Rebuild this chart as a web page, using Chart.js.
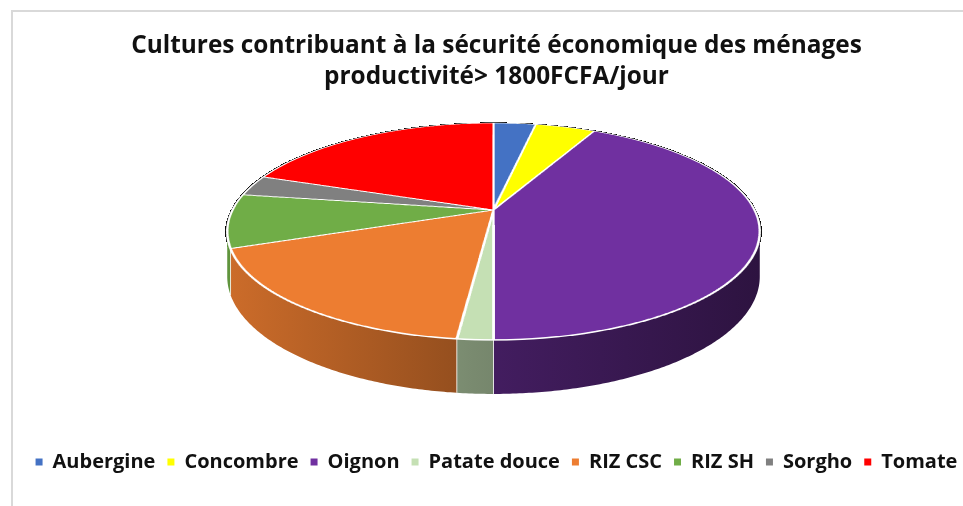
<!DOCTYPE html>
<html lang="fr">
<head>
<meta charset="utf-8">
<title>Cultures contribuant à la sécurité économique des ménages</title>
<script src="https://cdn.jsdelivr.net/npm/chart.js@4.4.1/dist/chart.umd.min.js"></script>
<style>
  html, body { margin: 0; padding: 0; background: #fff; }
  canvas { display: block; }
</style>
</head>
<body>
<canvas id="pie" width="963" height="506"></canvas>
<script>
const titleLines = ['Cultures contribuant à la sécurité économique des ménages', 'productivité> 1800FCFA/jour'];
const crops = ['Aubergine', 'Concombre', 'Oignon', 'Patate douce', 'RIZ CSC', 'RIZ SH', 'Sorgho', 'Tomate'];
const shares = [3.1, 4.4, 42.5, 1.8, 17.6, 8.0, 3.1, 19.5];
const sliceColors = ['#4472C4', '#FFFF00', '#7030A0', '#C5E0B4', '#ED7D31', '#70AD47', '#808080', '#FF0000'];

// Tilted view of the disc: screen centre, half axes, perspective strength, thickness
const view = { cx: 493.5, cy: 210, rx: 261, ry: 104.2, persp: 0.198, depth: 43.3 };

// theta is measured from the far edge, clockwise
function project(theta, lower) {
  const w = 1 + view.persp * Math.cos(theta);
  return {
    x: view.cx + view.rx * Math.sin(theta) / w,
    y: view.cy - view.ry * Math.cos(theta) / w + (lower ? view.depth / w : 0)
  };
}

function shade(hex, f) {
  const n = parseInt(hex.slice(1), 16);
  const r = Math.round(((n >> 16) & 255) * f);
  const g = Math.round(((n >> 8) & 255) * f);
  const b = Math.round((n & 255) * f);
  return `rgb(${r},${g},${b})`;
}

function drawWalls(ctx, arcs) {
  const k = view.persp;
  const lo = Math.acos(-k), hi = 2 * Math.PI - lo;
  const x0 = view.cx - view.rx * 1.02, x1 = view.cx + view.rx * 1.02;
  arcs.forEach(arc => {
    const a = Math.max(arc.startAngle + Math.PI / 2, lo);
    const b = Math.min(arc.endAngle + Math.PI / 2, hi);
    if (b <= a) return;
    const steps = Math.max(2, Math.ceil((b - a) / 0.01));
    ctx.beginPath();
    for (let i = 0; i <= steps; i++) {
      const p = project(a + (b - a) * i / steps, false);
      if (i === 0) ctx.moveTo(p.x, p.y); else ctx.lineTo(p.x, p.y);
    }
    for (let i = steps; i >= 0; i--) {
      const p = project(a + (b - a) * i / steps, true);
      ctx.lineTo(p.x, p.y);
    }
    ctx.closePath();
    const base = arc.options.backgroundColor;
    const grad = ctx.createLinearGradient(x0, 0, x1, 0);
    grad.addColorStop(0, shade(base, 0.86));
    grad.addColorStop(0.45, shade(base, 0.62));
    grad.addColorStop(1, shade(base, 0.40));
    ctx.fillStyle = grad;
    ctx.fill();
  });
  // light seams where slices meet on the wall
  ctx.strokeStyle = 'rgba(255,255,255,0.75)';
  ctx.lineWidth = 1;
  arcs.forEach(arc => {
    const t = arc.startAngle + Math.PI / 2;
    if (t > lo && t < hi) {
      const p = project(t, false), q = project(t, true);
      ctx.beginPath();
      ctx.moveTo(p.x, p.y);
      ctx.lineTo(q.x, q.y);
      ctx.stroke();
    }
  });
}

// Draws the flat pie off-screen with Chart.js arc elements, then lays it onto the tilted disc
function drawTopFace(ctx, arcs) {
  const first = arcs[0];
  const R = first.outerRadius, S = 3, pad = 4;
  const size = Math.ceil(2 * (R + pad) * S);
  const off = document.createElement('canvas');
  off.width = off.height = size;
  const octx = off.getContext('2d');
  octx.setTransform(S, 0, 0, S, size / 2 - first.x * S, size / 2 - first.y * S);
  arcs.forEach(a => a.draw(octx));
  const src = octx.getImageData(0, 0, size, size).data;

  const k = view.persp;
  const bx = Math.floor(view.cx - view.rx * 1.04), bw = Math.ceil(view.rx * 2.08) + 2;
  const by = Math.floor(view.cy - view.ry / (1 + k)) - 3;
  const bh = Math.ceil(view.ry / (1 + k) + view.ry / (1 - k)) + 6;
  const img = ctx.getImageData(bx, by, bw, bh);
  const d = img.data;
  const n = 3, half = size / 2, scale = R * S;
  for (let yy = 0; yy < bh; yy++) {
    for (let xx = 0; xx < bw; xx++) {
      let ar = 0, ag = 0, ab = 0, aa = 0;
      for (let j = 0; j < n; j++) {
        const py = by + yy + (j + 0.5) / n;
        const t = (view.cy - py) / view.ry;
        const sv = t / (1 - k * t);
        if (sv > 1.02 || sv < -1.02) continue;
        const w = 1 + k * sv;
        for (let i = 0; i < n; i++) {
          const px = bx + xx + (i + 0.5) / n;
          const su = (px - view.cx) * w / view.rx;
          if (su * su + sv * sv > 1.04) continue;
          const sx = Math.floor(half + su * scale), sy = Math.floor(half - sv * scale);
          if (sx < 0 || sy < 0 || sx >= size || sy >= size) continue;
          const idx = (sy * size + sx) * 4;
          const al = src[idx + 3] / 255;
          ar += src[idx] * al; ag += src[idx + 1] * al; ab += src[idx + 2] * al; aa += al;
        }
      }
      if (aa === 0) continue;
      const cnt = n * n;
      ar /= cnt; ag /= cnt; ab /= cnt; aa /= cnt;
      const o = (yy * bw + xx) * 4;
      d[o] = Math.round(ar + d[o] * (1 - aa));
      d[o + 1] = Math.round(ag + d[o + 1] * (1 - aa));
      d[o + 2] = Math.round(ab + d[o + 2] * (1 - aa));
      d[o + 3] = 255;
    }
  }
  ctx.putImageData(img, bx, by);
}

const tiltedPie = {
  id: 'tiltedPie',
  beforeDraw(chart) {
    const ctx = chart.ctx;
    ctx.save();
    ctx.strokeStyle = '#d9d9d9';
    ctx.lineWidth = 2;
    ctx.beginPath();
    ctx.moveTo(12, chart.height);
    ctx.lineTo(12, 11);
    ctx.lineTo(chart.width, 11);
    ctx.stroke();
    ctx.restore();
  },
  beforeDatasetsDraw(chart) {
    const arcs = chart.getDatasetMeta(0).data;
    const ctx = chart.ctx;
    ctx.save();
    drawWalls(ctx, arcs);
    ctx.restore();
    drawTopFace(ctx, arcs);
    return false;
  }
};

const pieOverrides = (Chart.overrides.pie || Chart.overrides.doughnut);
const baseLabels = pieOverrides.plugins.legend.labels.generateLabels;

new Chart(document.getElementById('pie'), {
  type: 'pie',
  data: {
    labels: crops,
    datasets: [{
      data: shares,
      backgroundColor: sliceColors,
      borderColor: '#ffffff',
      borderWidth: 1.5
    }]
  },
  options: {
    responsive: false,
    devicePixelRatio: 1,
    animation: false,
    layout: { padding: { left: 15, right: -15, top: 0, bottom: 24 } },
    plugins: {
      title: {
        display: true,
        text: titleLines,
        color: '#111111',
        font: { family: 'Open Sans', size: 24.4, weight: 'bold', lineHeight: 1.27 },
        padding: { top: 31, bottom: 10 }
      },
      legend: {
        position: 'bottom',
        labels: {
          color: '#111111',
          font: { family: 'Open Sans', size: 20, weight: 'bold' },
          boxWidth: 7,
          boxHeight: 7,
          padding: 12,
          generateLabels(chart) {
            return baseLabels(chart).map(item => Object.assign(item, { lineWidth: 0 }));
          }
        }
      },
      tooltip: { enabled: false }
    }
  },
  plugins: [tiltedPie]
});
</script>
</body>
</html>
